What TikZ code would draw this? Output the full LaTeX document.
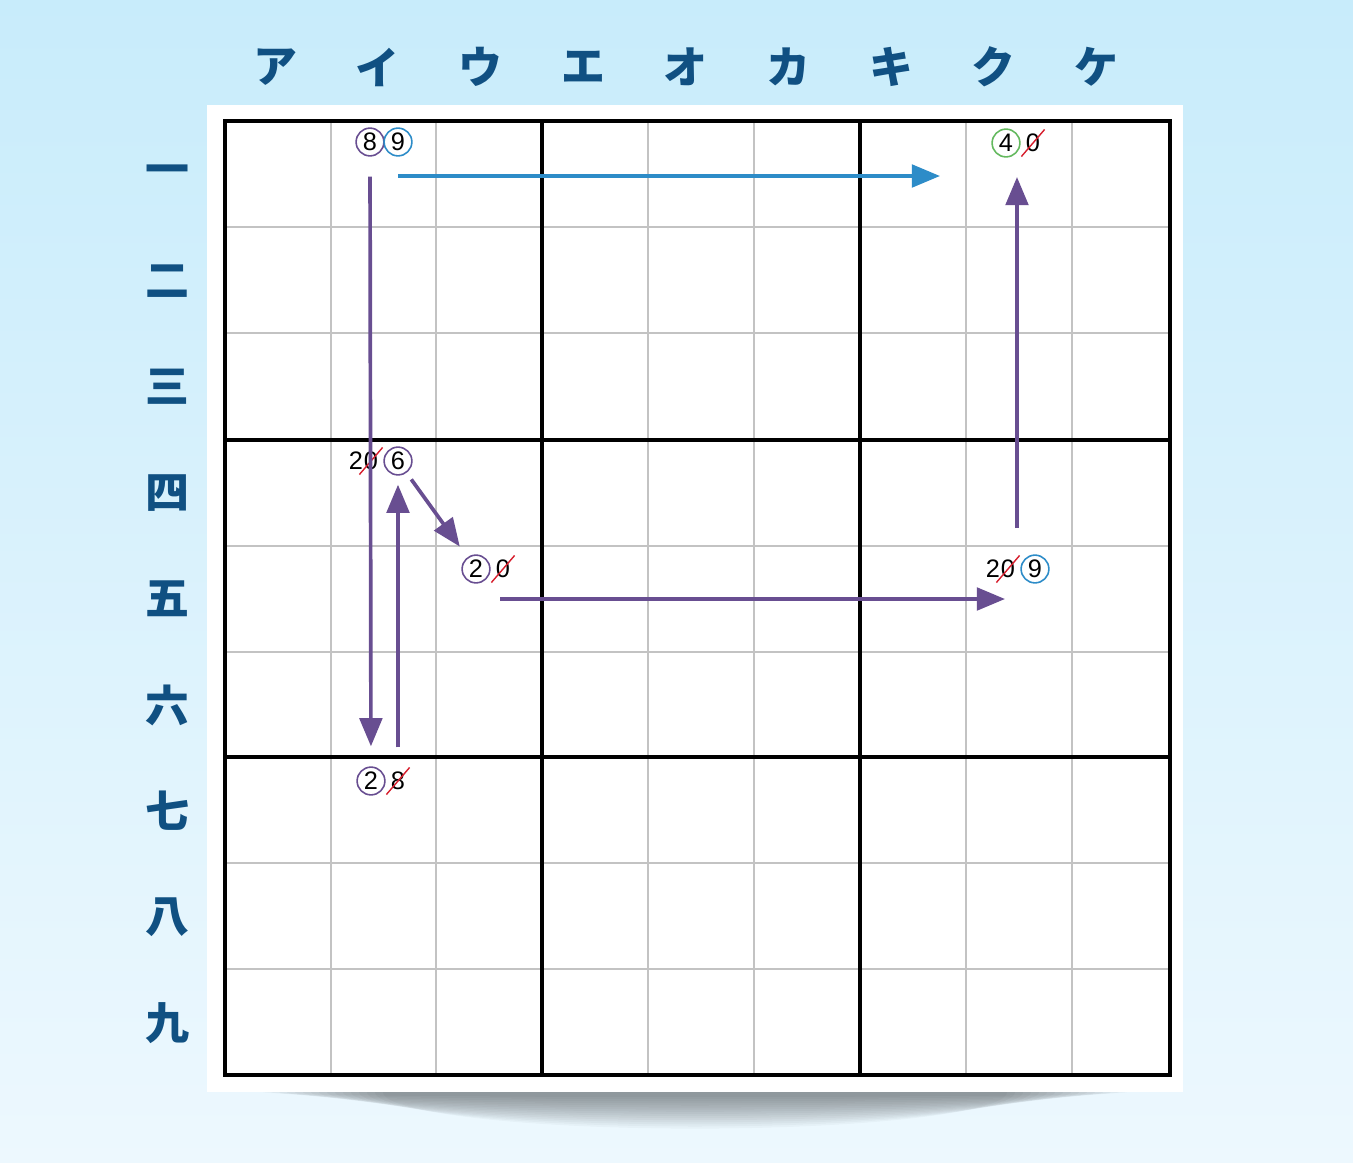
\documentclass[tikz,border=0pt]{standalone}
\usepackage{fontspec}
\setmainfont{Liberation Sans}
\newfontfamily\jpfont{Noto Sans CJK JP}
\usetikzlibrary{arrows.meta}

\definecolor{bgtop}{RGB}{200,236,251}
\definecolor{bgbot}{RGB}{237,248,254}
\definecolor{labelblue}{RGB}{16,80,130}
\definecolor{chainpurple}{RGB}{104,78,145}
\definecolor{chainblue}{RGB}{45,140,200}
\definecolor{candgreen}{RGB}{100,185,95}
\definecolor{strikered}{RGB}{215,30,45}
\definecolor{thingrid}{RGB}{195,195,195}

\begin{document}
\begin{tikzpicture}[x=0.01cm,y=-0.01cm]
\tikzstyle{every node}=[inner sep=0pt]
\tikzstyle{head}=[font=\jpfont\bfseries\fontsize{12.5}{14}\selectfont,text=labelblue]
\tikzstyle{digit}=[font=\fontsize{7.2}{8}\selectfont]
\tikzstyle{ringed}=[digit,circle,draw=chainpurple,line width=0.45pt,minimum size=7.9pt]
\tikzstyle{struck}=[digit,inner sep=1.1pt]
\tikzstyle{link}=[chainpurple,line width=1.05pt,-{Triangle[length=8pt,width=6.4pt]}]
\tikzstyle{strike}=[strikered,line width=0.4pt]

\useasboundingbox (0,0) rectangle (1353,1163);
\shade[top color=bgtop,bottom color=bgbot] (0,0) rectangle (1353,1163);

% shadow under the board
\begin{scope}
\clip (150,1092) rectangle (1250,1163);
\foreach \r in {1,...,16}
  \fill[black,opacity=0.026] (695,1092) ellipse ({440-8*\r} and {3+2.1*\r});
\end{scope}
\fill[white] (207,105) rectangle (1183,1092);

% grid
\foreach \x in {331,436,648,754,966,1072}
  \draw[thingrid,line width=0.45pt] (\x,121) -- (\x,1075);
\foreach \y in {227,333,546,652,863,969}
  \draw[thingrid,line width=0.45pt] (225,\y) -- (1170,\y);
\foreach \x in {542,860}
  \draw[line width=1pt] (\x,121) -- (\x,1075);
\foreach \y in {440,757}
  \draw[line width=1pt] (225,\y) -- (1170,\y);
\draw[line width=1.15pt] (225,121) rectangle (1170,1075);

% headings
\foreach \k [count=\i from 0] in {ア,イ,ウ,エ,オ,カ,キ,ク,ケ}
  \node[head] (col\i) at (275+102.7*\i,67) {\k};
\foreach \k [count=\i from 0] in {一,二,三,四,五,六,七,八,九}
  \node[head] (row\i) at (167,175+106*\i) {\k};

% candidates
\node[ringed] (e8) at (370,142) {8};
\node[ringed,draw=chainblue] (e9) at (398,142) {9};

\node[digit] (f2) at (356,461) {2};
\node[struck] (f0) at (371,461) {0};
\draw[strike] (f0.south west) -- (f0.north east);
\node[ringed] (f6) at (398,461) {6};

\node[ringed] (g2) at (476,569) {2};
\node[struck] (g0) at (503,569) {0};
\draw[strike] (g0.south west) -- (g0.north east);

\node[digit] (h2) at (993,569) {2};
\node[struck] (h0) at (1008,569) {0};
\draw[strike] (h0.south west) -- (h0.north east);
\node[ringed,draw=chainblue] (h9) at (1035,569) {9};

\node[ringed,draw=candgreen] (k4) at (1006,143) {4};
\node[struck] (k0) at (1033,143) {0};
\draw[strike] (k0.south west) -- (k0.north east);

\node[ringed] (m2) at (371,781) {2};
\node[struck] (m8) at (398,781) {8};
\draw[strike] (m8.south west) -- (m8.north east);

% chain
\coordinate (blueA) at (398,176);
\coordinate (blueB) at (940,176);
\coordinate (longA) at (500,599);
\coordinate (longB) at (1005,599);
\coordinate (upA) at (1017,528);
\coordinate (upB) at (1017,177);

\draw[link,chainblue] (blueA) -- (blueB);
\draw[link,shorten <=0.2cm,shorten >=0.2cm] (e8) -- (m2);
\draw[link,shorten <=0.2cm,shorten >=0.09cm] (m8) -- (f6);
\draw[link,shorten <=0.08cm,shorten >=0.13cm] (f6) -- (g2);
\draw[link] (longA) -- (longB);
\draw[link] (upA) -- (upB);
\end{tikzpicture}
\end{document}
